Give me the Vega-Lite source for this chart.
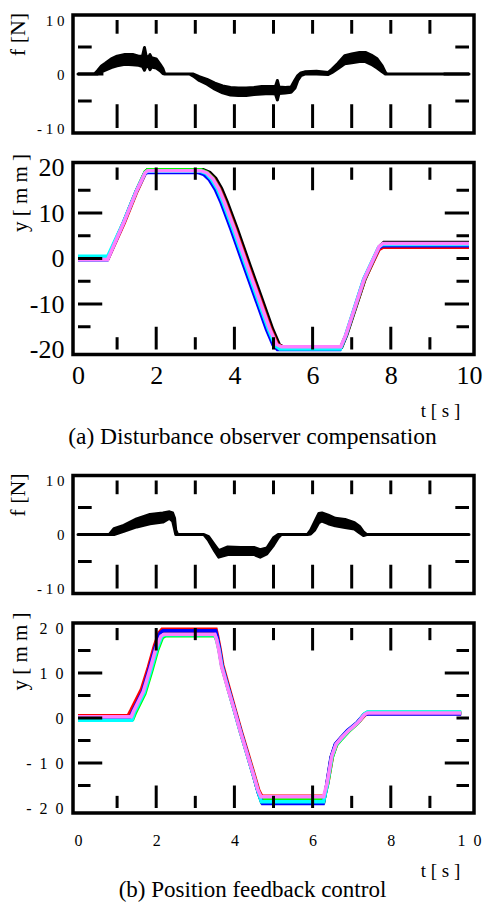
{
  "$schema": "https://vega.github.io/schema/vega-lite/v6.json",
  "background": "white",
  "padding": {"left": 4, "top": 7, "right": 0, "bottom": 0},
  "config": {
    "view": {"stroke": "black", "strokeWidth": 3.5},
    "axis": {"labelFont": "Liberation Serif", "titleFont": "Liberation Serif", "labelColor": "black", "titleColor": "black", "labelFlush": false, "labelOverlap": false, "labelBound": false, "titleFontWeight": "normal"},
    "title": {"font": "Liberation Serif", "fontWeight": "normal", "color": "black"}
  },
  "datasets": {
    "tx": [{"v":1},{"v":2},{"v":3},{"v":4},{"v":5},{"v":6},{"v":7},{"v":8},{"v":9}],
    "tyP": [{"v":-15},{"v":-10},{"v":-5},{"v":0},{"v":5},{"v":10},{"v":15}],
    "tyF": [{"v":-5},{"v":0},{"v":5}],
    "forceA": [
      {"t":0,"lo":0,"hi":0},{"t":0.42,"lo":0,"hi":0},{"t":0.5,"lo":0,"hi":0.6},{"t":0.6,"lo":0.4,"hi":1.5},{"t":0.7,"lo":0.7,"hi":2.0},{"t":0.85,"lo":1.2,"hi":2.8},{"t":1.0,"lo":1.5,"hi":3.3},{"t":1.2,"lo":1.8,"hi":3.6},{"t":1.4,"lo":1.7,"hi":3.6},{"t":1.55,"lo":1.6,"hi":3.3},{"t":1.65,"lo":1.4,"hi":3.3},{"t":1.7,"lo":0.7,"hi":4.9},{"t":1.74,"lo":1.4,"hi":3.4},{"t":1.8,"lo":1.4,"hi":3.0},{"t":1.84,"lo":0.8,"hi":3.6},{"t":1.88,"lo":1.3,"hi":3.0},{"t":2.0,"lo":1.1,"hi":2.8},{"t":2.1,"lo":0.6,"hi":1.8},{"t":2.17,"lo":0.1,"hi":1.0},{"t":2.22,"lo":0,"hi":0},{"t":2.85,"lo":0,"hi":0},{"t":2.95,"lo":-0.4,"hi":0},{"t":3.1,"lo":-1.2,"hi":-0.5},{"t":3.3,"lo":-1.9,"hi":-1.0},{"t":3.5,"lo":-2.8,"hi":-1.7},{"t":3.7,"lo":-3.5,"hi":-2.2},{"t":3.9,"lo":-3.9,"hi":-2.5},{"t":4.1,"lo":-4.0,"hi":-2.6},{"t":4.3,"lo":-4.0,"hi":-2.6},{"t":4.5,"lo":-3.8,"hi":-2.5},{"t":4.7,"lo":-3.7,"hi":-2.3},{"t":4.9,"lo":-3.6,"hi":-2.3},{"t":5.05,"lo":-3.7,"hi":-2.3},{"t":5.1,"lo":-4.8,"hi":-1.2},{"t":5.14,"lo":-3.6,"hi":-2.4},{"t":5.3,"lo":-3.5,"hi":-2.5},{"t":5.45,"lo":-3.4,"hi":-2.4},{"t":5.55,"lo":-2.6,"hi":-1.1},{"t":5.62,"lo":-1.2,"hi":-0.3},{"t":5.7,"lo":-0.3,"hi":0.2},{"t":5.8,"lo":0,"hi":0.4},{"t":6.1,"lo":0,"hi":0.5},{"t":6.4,"lo":-0.1,"hi":0.3},{"t":6.5,"lo":0.3,"hi":0.9},{"t":6.65,"lo":1.0,"hi":2.0},{"t":6.82,"lo":1.9,"hi":3.4},{"t":7.0,"lo":2.1,"hi":3.7},{"t":7.2,"lo":2.3,"hi":4.0},{"t":7.35,"lo":2.3,"hi":4.0},{"t":7.5,"lo":1.8,"hi":3.5},{"t":7.65,"lo":1.1,"hi":2.8},{"t":7.78,"lo":0.4,"hi":1.5},{"t":7.86,"lo":0,"hi":0.3},{"t":7.9,"lo":0,"hi":0},{"t":10,"lo":0,"hi":0}
    ],
    "forceB": [
      {"t":0,"lo":0,"hi":0},{"t":0.8,"lo":0,"hi":0},{"t":0.92,"lo":0,"hi":1.1},{"t":1.17,"lo":0.6,"hi":1.7},{"t":1.5,"lo":1.4,"hi":2.9},{"t":1.84,"lo":2.0,"hi":3.7},{"t":2.17,"lo":2.3,"hi":4.0},{"t":2.34,"lo":3.0,"hi":4.2},{"t":2.42,"lo":2.5,"hi":4.0},{"t":2.47,"lo":1.0,"hi":3.0},{"t":2.5,"lo":0,"hi":0.8},{"t":2.55,"lo":0,"hi":0},{"t":3.22,"lo":0,"hi":0},{"t":3.34,"lo":-1.1,"hi":-0.4},{"t":3.5,"lo":-3.1,"hi":-2.0},{"t":3.6,"lo":-4.2,"hi":-3.0},{"t":3.83,"lo":-3.7,"hi":-2.3},{"t":4.16,"lo":-3.7,"hi":-2.4},{"t":4.5,"lo":-3.7,"hi":-2.4},{"t":4.66,"lo":-4.2,"hi":-2.8},{"t":4.83,"lo":-3.6,"hi":-2.5},{"t":5.0,"lo":-2.0,"hi":-0.6},{"t":5.12,"lo":-0.6,"hi":0},{"t":5.2,"lo":0,"hi":0},{"t":5.87,"lo":0,"hi":0},{"t":5.95,"lo":0.1,"hi":0.8},{"t":6.05,"lo":0.8,"hi":2.3},{"t":6.16,"lo":2.2,"hi":3.9},{"t":6.24,"lo":2.5,"hi":4.0},{"t":6.4,"lo":2.0,"hi":3.6},{"t":6.58,"lo":1.6,"hi":3.0},{"t":6.83,"lo":1.3,"hi":2.8},{"t":7.07,"lo":1.0,"hi":2.2},{"t":7.2,"lo":0.3,"hi":1.5},{"t":7.3,"lo":-0.2,"hi":0.5},{"t":7.38,"lo":0,"hi":0},{"t":10,"lo":0,"hi":0}
    ],
    "posA": [
      {"s":"k","t":0,"y":0},{"s":"k","t":0.76,"y":0},{"s":"k","t":1.17,"y":7.9},{"s":"k","t":1.5,"y":14.9},{"s":"k","t":1.72,"y":19.0},{"s":"k","t":1.78,"y":19.5},{"s":"k","t":3.2,"y":19.5},{"s":"k","t":3.37,"y":18.9},{"s":"k","t":3.52,"y":17.6},{"s":"k","t":3.67,"y":15.4},{"s":"k","t":3.82,"y":12.3},{"s":"k","t":4.07,"y":6.5},{"s":"k","t":4.4,"y":-1.6},{"s":"k","t":4.67,"y":-8.1},{"s":"k","t":4.98,"y":-15.6},{"s":"k","t":5.15,"y":-19.0},{"s":"k","t":5.27,"y":-19.5},{"s":"k","t":6.74,"y":-19.5},{"s":"k","t":6.87,"y":-16.8},{"s":"k","t":7.34,"y":-4.5},{"s":"k","t":7.72,"y":2.7},{"s":"k","t":7.82,"y":3.5},{"s":"k","t":10,"y":3.5},
      {"s":"r","t":0,"y":0},{"s":"r","t":0.77,"y":0},{"s":"r","t":1.18,"y":7.8},{"s":"r","t":1.51,"y":14.8},{"s":"r","t":1.73,"y":18.9},{"s":"r","t":1.79,"y":19.3},{"s":"r","t":3.17,"y":19.3},{"s":"r","t":3.32,"y":18.8},{"s":"r","t":3.47,"y":17.5},{"s":"r","t":3.62,"y":15.3},{"s":"r","t":3.77,"y":12.3},{"s":"r","t":4.02,"y":6.5},{"s":"r","t":4.35,"y":-1.6},{"s":"r","t":4.62,"y":-8.1},{"s":"r","t":4.93,"y":-15.6},{"s":"r","t":5.1,"y":-18.9},{"s":"r","t":5.22,"y":-19.4},{"s":"r","t":6.73,"y":-19.4},{"s":"r","t":6.86,"y":-16.8},{"s":"r","t":7.33,"y":-4.6},{"s":"r","t":7.7,"y":2.0},{"s":"r","t":7.8,"y":2.5},{"s":"r","t":10,"y":2.5},
      {"s":"g","t":0,"y":0.1},{"s":"g","t":0.76,"y":0.1},{"s":"g","t":1.17,"y":8.0},{"s":"g","t":1.5,"y":15.0},{"s":"g","t":1.72,"y":19.1},{"s":"g","t":1.78,"y":19.5},{"s":"g","t":3.15,"y":19.5},{"s":"g","t":3.3,"y":18.9},{"s":"g","t":3.45,"y":17.6},{"s":"g","t":3.6,"y":15.3},{"s":"g","t":3.75,"y":12.3},{"s":"g","t":4.0,"y":6.5},{"s":"g","t":4.33,"y":-1.7},{"s":"g","t":4.6,"y":-8.2},{"s":"g","t":4.91,"y":-15.7},{"s":"g","t":5.08,"y":-19.0},{"s":"g","t":5.2,"y":-19.6},{"s":"g","t":6.72,"y":-19.6},{"s":"g","t":6.85,"y":-17.0},{"s":"g","t":7.32,"y":-4.6},{"s":"g","t":7.7,"y":2.5},{"s":"g","t":7.8,"y":3.2},{"s":"g","t":10,"y":3.2},
      {"s":"b","t":0,"y":-0.3},{"s":"b","t":0.75,"y":-0.3},{"s":"b","t":1.16,"y":7.8},{"s":"b","t":1.49,"y":14.8},{"s":"b","t":1.71,"y":18.6},{"s":"b","t":1.77,"y":18.9},{"s":"b","t":3.08,"y":18.9},{"s":"b","t":3.21,"y":18.5},{"s":"b","t":3.36,"y":17.3},{"s":"b","t":3.51,"y":15.2},{"s":"b","t":3.66,"y":12.3},{"s":"b","t":3.91,"y":6.5},{"s":"b","t":4.24,"y":-1.6},{"s":"b","t":4.51,"y":-8.1},{"s":"b","t":4.82,"y":-15.6},{"s":"b","t":4.99,"y":-19.0},{"s":"b","t":5.1,"y":-20.0},{"s":"b","t":6.7,"y":-20.0},{"s":"b","t":6.84,"y":-17.2},{"s":"b","t":7.31,"y":-4.6},{"s":"b","t":7.69,"y":2.3},{"s":"b","t":7.79,"y":2.8},{"s":"b","t":10,"y":2.8},
      {"s":"c","t":0,"y":0.5},{"s":"c","t":0.76,"y":0.5},{"s":"c","t":1.17,"y":8.1},{"s":"c","t":1.5,"y":15.0},{"s":"c","t":1.72,"y":18.9},{"s":"c","t":1.78,"y":19.2},{"s":"c","t":3.12,"y":19.2},{"s":"c","t":3.27,"y":18.7},{"s":"c","t":3.41,"y":17.4},{"s":"c","t":3.56,"y":15.3},{"s":"c","t":3.71,"y":12.3},{"s":"c","t":3.96,"y":6.5},{"s":"c","t":4.29,"y":-1.6},{"s":"c","t":4.56,"y":-8.1},{"s":"c","t":4.87,"y":-15.6},{"s":"c","t":5.04,"y":-19.1},{"s":"c","t":5.16,"y":-19.9},{"s":"c","t":6.71,"y":-19.9},{"s":"c","t":6.84,"y":-17.0},{"s":"c","t":7.31,"y":-4.5},{"s":"c","t":7.69,"y":2.5},{"s":"c","t":7.79,"y":3.1},{"s":"c","t":10,"y":3.1},
      {"s":"v","t":0,"y":-0.2},{"s":"v","t":0.76,"y":-0.2},{"s":"v","t":1.17,"y":7.9},{"s":"v","t":1.5,"y":14.9},{"s":"v","t":1.72,"y":18.9},{"s":"v","t":1.78,"y":19.3},{"s":"v","t":3.15,"y":19.3},{"s":"v","t":3.3,"y":18.8},{"s":"v","t":3.45,"y":17.5},{"s":"v","t":3.6,"y":15.3},{"s":"v","t":3.75,"y":12.3},{"s":"v","t":4.0,"y":6.5},{"s":"v","t":4.33,"y":-1.6},{"s":"v","t":4.6,"y":-8.1},{"s":"v","t":4.91,"y":-15.6},{"s":"v","t":5.08,"y":-18.9},{"s":"v","t":5.2,"y":-19.4},{"s":"v","t":6.72,"y":-19.4},{"s":"v","t":6.85,"y":-16.8},{"s":"v","t":7.32,"y":-4.5},{"s":"v","t":7.7,"y":2.6},{"s":"v","t":7.8,"y":3.3},{"s":"v","t":10,"y":3.3}
    ],
    "posB": [
      {"s":"k","t":0,"y":0.2},{"s":"k","t":1.33,"y":0.2},{"s":"k","t":1.39,"y":1.6},{"s":"k","t":1.64,"y":6.1},{"s":"k","t":1.81,"y":11.0},{"s":"k","t":1.97,"y":16.0},{"s":"k","t":2.09,"y":18.9},{"s":"k","t":2.16,"y":19.3},{"s":"k","t":3.51,"y":19.3},{"s":"k","t":3.55,"y":17.9},{"s":"k","t":3.61,"y":15.3},{"s":"k","t":3.68,"y":11.6},{"s":"k","t":3.84,"y":6.6},{"s":"k","t":4.0,"y":1.7},{"s":"k","t":4.16,"y":-3.2},{"s":"k","t":4.33,"y":-8.1},{"s":"k","t":4.5,"y":-13.1},{"s":"k","t":4.61,"y":-16.5},{"s":"k","t":4.7,"y":-18.8},{"s":"k","t":6.28,"y":-18.8},{"s":"k","t":6.36,"y":-15.0},{"s":"k","t":6.48,"y":-8.6},{"s":"k","t":6.59,"y":-5.8},{"s":"k","t":6.73,"y":-4.4},{"s":"k","t":6.9,"y":-2.9},{"s":"k","t":7.15,"y":-1.0},{"s":"k","t":7.31,"y":0.7},{"s":"k","t":7.39,"y":1.1},{"s":"k","t":9.8,"y":1.1},
      {"s":"r","t":0,"y":0.5},{"s":"r","t":1.28,"y":0.5},{"s":"r","t":1.36,"y":1.8},{"s":"r","t":1.62,"y":6.3},{"s":"r","t":1.8,"y":11.3},{"s":"r","t":1.96,"y":16.2},{"s":"r","t":2.08,"y":19.0},{"s":"r","t":2.15,"y":19.7},{"s":"r","t":3.53,"y":19.7},{"s":"r","t":3.57,"y":18.2},{"s":"r","t":3.63,"y":15.5},{"s":"r","t":3.7,"y":11.8},{"s":"r","t":3.86,"y":6.8},{"s":"r","t":4.02,"y":1.8},{"s":"r","t":4.18,"y":-3.1},{"s":"r","t":4.35,"y":-8.0},{"s":"r","t":4.52,"y":-13.0},{"s":"r","t":4.62,"y":-16.0},{"s":"r","t":4.7,"y":-17.4},{"s":"r","t":6.3,"y":-17.4},{"s":"r","t":6.39,"y":-14.4},{"s":"r","t":6.51,"y":-8.4},{"s":"r","t":6.62,"y":-5.7},{"s":"r","t":6.76,"y":-4.3},{"s":"r","t":6.93,"y":-2.8},{"s":"r","t":7.18,"y":-0.9},{"s":"r","t":7.34,"y":0.7},{"s":"r","t":7.42,"y":1.0},{"s":"r","t":9.8,"y":1.0},
      {"s":"g","t":0,"y":-0.3},{"s":"g","t":1.4,"y":-0.3},{"s":"g","t":1.46,"y":1.0},{"s":"g","t":1.71,"y":5.4},{"s":"g","t":1.88,"y":10.3},{"s":"g","t":2.04,"y":15.2},{"s":"g","t":2.16,"y":17.9},{"s":"g","t":2.24,"y":18.3},{"s":"g","t":3.5,"y":18.3},{"s":"g","t":3.55,"y":17.2},{"s":"g","t":3.61,"y":15.0},{"s":"g","t":3.68,"y":11.4},{"s":"g","t":3.84,"y":6.5},{"s":"g","t":4.01,"y":1.5},{"s":"g","t":4.17,"y":-3.4},{"s":"g","t":4.34,"y":-8.3},{"s":"g","t":4.51,"y":-13.2},{"s":"g","t":4.61,"y":-16.3},{"s":"g","t":4.69,"y":-18.1},{"s":"g","t":6.29,"y":-18.1},{"s":"g","t":6.38,"y":-14.8},{"s":"g","t":6.5,"y":-8.8},{"s":"g","t":6.61,"y":-6.0},{"s":"g","t":6.75,"y":-4.6},{"s":"g","t":6.92,"y":-3.0},{"s":"g","t":7.17,"y":-1.0},{"s":"g","t":7.33,"y":0.9},{"s":"g","t":7.41,"y":1.3},{"s":"g","t":9.8,"y":1.3},
      {"s":"b","t":0,"y":0.0},{"s":"b","t":1.33,"y":0.0},{"s":"b","t":1.4,"y":1.5},{"s":"b","t":1.65,"y":5.9},{"s":"b","t":1.82,"y":10.9},{"s":"b","t":1.98,"y":15.9},{"s":"b","t":2.1,"y":18.9},{"s":"b","t":2.17,"y":19.4},{"s":"b","t":3.52,"y":19.4},{"s":"b","t":3.56,"y":18.0},{"s":"b","t":3.62,"y":15.3},{"s":"b","t":3.69,"y":11.5},{"s":"b","t":3.85,"y":6.5},{"s":"b","t":4.01,"y":1.6},{"s":"b","t":4.17,"y":-3.3},{"s":"b","t":4.34,"y":-8.3},{"s":"b","t":4.51,"y":-13.4},{"s":"b","t":4.62,"y":-16.8},{"s":"b","t":4.72,"y":-19.0},{"s":"b","t":6.27,"y":-19.0},{"s":"b","t":6.35,"y":-15.5},{"s":"b","t":6.47,"y":-8.8},{"s":"b","t":6.58,"y":-5.8},{"s":"b","t":6.72,"y":-4.4},{"s":"b","t":6.89,"y":-2.8},{"s":"b","t":7.14,"y":-1.0},{"s":"b","t":7.3,"y":0.6},{"s":"b","t":7.38,"y":0.9},{"s":"b","t":9.8,"y":0.9},
      {"s":"c","t":0,"y":-0.5},{"s":"c","t":1.38,"y":-0.5},{"s":"c","t":1.44,"y":1.2},{"s":"c","t":1.69,"y":5.6},{"s":"c","t":1.86,"y":10.5},{"s":"c","t":2.02,"y":15.4},{"s":"c","t":2.14,"y":18.1},{"s":"c","t":2.22,"y":18.5},{"s":"c","t":3.5,"y":18.5},{"s":"c","t":3.55,"y":17.4},{"s":"c","t":3.61,"y":15.1},{"s":"c","t":3.68,"y":11.5},{"s":"c","t":3.84,"y":6.5},{"s":"c","t":4.0,"y":1.6},{"s":"c","t":4.16,"y":-3.3},{"s":"c","t":4.33,"y":-8.2},{"s":"c","t":4.5,"y":-13.1},{"s":"c","t":4.61,"y":-16.5},{"s":"c","t":4.69,"y":-18.6},{"s":"c","t":6.28,"y":-18.6},{"s":"c","t":6.37,"y":-15.0},{"s":"c","t":6.49,"y":-8.7},{"s":"c","t":6.6,"y":-5.9},{"s":"c","t":6.74,"y":-4.5},{"s":"c","t":6.91,"y":-2.9},{"s":"c","t":7.16,"y":-1.0},{"s":"c","t":7.32,"y":0.9},{"s":"c","t":7.4,"y":1.35},{"s":"c","t":9.8,"y":1.35},
      {"s":"v","t":0,"y":0.3},{"s":"v","t":1.36,"y":0.3},{"s":"v","t":1.42,"y":1.5},{"s":"v","t":1.67,"y":5.9},{"s":"v","t":1.84,"y":10.8},{"s":"v","t":2.0,"y":15.7},{"s":"v","t":2.12,"y":18.2},{"s":"v","t":2.2,"y":18.6},{"s":"v","t":3.5,"y":18.6},{"s":"v","t":3.54,"y":17.6},{"s":"v","t":3.6,"y":15.2},{"s":"v","t":3.67,"y":11.5},{"s":"v","t":3.83,"y":6.6},{"s":"v","t":4.0,"y":1.7},{"s":"v","t":4.16,"y":-3.2},{"s":"v","t":4.33,"y":-8.1},{"s":"v","t":4.5,"y":-13.0},{"s":"v","t":4.6,"y":-16.0},{"s":"v","t":4.68,"y":-17.5},{"s":"v","t":6.28,"y":-17.5},{"s":"v","t":6.37,"y":-14.5},{"s":"v","t":6.49,"y":-8.5},{"s":"v","t":6.6,"y":-5.8},{"s":"v","t":6.74,"y":-4.4},{"s":"v","t":6.91,"y":-2.9},{"s":"v","t":7.16,"y":-1.0},{"s":"v","t":7.32,"y":0.7},{"s":"v","t":7.4,"y":1.1},{"s":"v","t":9.8,"y":1.1}
    ]
  },
  "vconcat": [
    {
      "width": 401, "height": 118,
      "layer": [
        {"data": {"name": "forceA"}, "mark": {"type": "area", "color": "black", "stroke": "black", "strokeWidth": 3, "strokeJoin": "round"},
         "encoding": {
           "x": {"field": "t", "type": "quantitative", "scale": {"domain": [0, 10], "nice": false, "zero": false}, "axis": null},
           "y": {"field": "lo", "type": "quantitative", "scale": {"domain": [-10, 10], "nice": false, "zero": false},
                 "axis": {"orient": "left", "values": [-10,0,10], "ticks": false, "domain": false, "grid": false,
                          "labelExpr": "join(split('' + datum.value, ''), ' ')", "labelFontSize": 15, "labelPadding": 9,
                          "title": "f  [N]", "titleFontSize": 22, "titleX": -56, "titleY": 19, "titleAngle": -90, "titleAlign": "center", "titleBaseline": "middle"}},
           "y2": {"field": "hi"}
         }},
        {"data": {"name": "tx"}, "mark": {"type": "bar", "color": "black", "size": 3},
         "encoding": {"x": {"field": "v", "type": "quantitative", "scale": {"domain": [0, 10], "nice": false, "zero": false}, "axis": null},
                      "y": {"datum": -10, "type": "quantitative", "scale": {"domain": [-10, 10], "nice": false, "zero": false}, "axis": null}, "y2": {"datum": -5.6}}},
        {"data": {"name": "tx"}, "mark": {"type": "bar", "color": "black", "size": 3},
         "encoding": {"x": {"field": "v", "type": "quantitative", "scale": {"domain": [0, 10], "nice": false, "zero": false}, "axis": null},
                      "y": {"datum": 10, "type": "quantitative", "scale": {"domain": [-10, 10], "nice": false, "zero": false}, "axis": null}, "y2": {"datum": 7.46}}},
        {"data": {"name": "tyF"}, "transform": [{"filter": "datum.v === 0"}], "mark": {"type": "bar", "color": "black", "size": 3},
         "encoding": {"y": {"field": "v", "type": "quantitative", "scale": {"domain": [-10, 10], "nice": false, "zero": false}, "axis": null},
                      "x": {"datum": 0, "type": "quantitative", "scale": {"domain": [0, 10], "nice": false, "zero": false}, "axis": null}, "x2": {"datum": 0.65}}},
        {"data": {"name": "tyF"}, "transform": [{"filter": "datum.v !== 0"}], "mark": {"type": "bar", "color": "black", "size": 3},
         "encoding": {"y": {"field": "v", "type": "quantitative", "scale": {"domain": [-10, 10], "nice": false, "zero": false}, "axis": null},
                      "x": {"datum": 0, "type": "quantitative", "scale": {"domain": [0, 10], "nice": false, "zero": false}, "axis": null}, "x2": {"datum": 0.35}}},
        {"data": {"name": "tyF"}, "transform": [{"filter": "datum.v === 0"}], "mark": {"type": "bar", "color": "black", "size": 3},
         "encoding": {"y": {"field": "v", "type": "quantitative", "scale": {"domain": [-10, 10], "nice": false, "zero": false}, "axis": null},
                      "x": {"datum": 10, "type": "quantitative", "scale": {"domain": [0, 10], "nice": false, "zero": false}, "axis": null}, "x2": {"datum": 9.35}}},
        {"data": {"name": "tyF"}, "transform": [{"filter": "datum.v !== 0"}], "mark": {"type": "bar", "color": "black", "size": 3},
         "encoding": {"y": {"field": "v", "type": "quantitative", "scale": {"domain": [-10, 10], "nice": false, "zero": false}, "axis": null},
                      "x": {"datum": 10, "type": "quantitative", "scale": {"domain": [0, 10], "nice": false, "zero": false}, "axis": null}, "x2": {"datum": 9.65}}}
      ],
      "resolve": {"axis": {"x": "independent", "y": "independent"}}
    },
    {
      "width": 401, "height": 192,
      "title": {"text": "(a) Disturbance observer compensation", "orient": "bottom", "offset": 4, "fontSize": 23.5, "anchor": "middle", "dx": -21},
      "layer": [
        {"data": {"name": "posA"}, "mark": {"type": "line", "strokeWidth": 3.5},
         "encoding": {
           "x": {"field": "t", "type": "quantitative", "scale": {"domain": [0, 10], "nice": false, "zero": false},
                 "axis": {"orient": "bottom", "values": [0,2,4,6,8,10], "ticks": false, "domain": false, "grid": false,
                          "labelExpr": "'' + datum.value", "labelFontSize": 26, "labelPadding": 8,
                          "title": "t     [ s ]", "titleFontSize": 19, "titleX": 367, "titleY": 56, "titleAlign": "center", "titleBaseline": "middle", "titleAngle": 0}},
           "y": {"field": "y", "type": "quantitative", "scale": {"domain": [-20, 20], "nice": false, "zero": false},
                 "axis": {"orient": "left", "values": [-20,-10,0,10,20], "ticks": false, "domain": false, "grid": false,
                          "labelExpr": "'' + datum.value", "labelFontSize": 26, "labelPadding": 9,
                          "title": "y   [ m m ]", "titleFontSize": 21, "titleX": -53, "titleY": 30, "titleAngle": -90, "titleAlign": "center", "titleBaseline": "middle"}},
           "color": {"field": "s", "type": "nominal", "scale": {"domain": ["k","r","g","b","c","v"], "range": ["#000000","#ff0000","#00ff00","#0000ff","#00ffff","#ff80ff"]}, "legend": null}
         }},
        {"data": {"name": "tx"}, "transform": [{"filter": "datum.v % 2 === 0"}], "mark": {"type": "bar", "color": "black", "size": 3},
         "encoding": {"x": {"field": "v", "type": "quantitative", "scale": {"domain": [0, 10], "nice": false, "zero": false}, "axis": null},
                      "y": {"datum": -20, "type": "quantitative", "scale": {"domain": [-20, 20], "nice": false, "zero": false}, "axis": null}, "y2": {"datum": -15}}},
        {"data": {"name": "tx"}, "transform": [{"filter": "datum.v % 2 === 1"}], "mark": {"type": "bar", "color": "black", "size": 3},
         "encoding": {"x": {"field": "v", "type": "quantitative", "scale": {"domain": [0, 10], "nice": false, "zero": false}, "axis": null},
                      "y": {"datum": -20, "type": "quantitative", "scale": {"domain": [-20, 20], "nice": false, "zero": false}, "axis": null}, "y2": {"datum": -17.3}}},
        {"data": {"name": "tx"}, "transform": [{"filter": "datum.v % 2 === 0"}], "mark": {"type": "bar", "color": "black", "size": 3},
         "encoding": {"x": {"field": "v", "type": "quantitative", "scale": {"domain": [0, 10], "nice": false, "zero": false}, "axis": null},
                      "y": {"datum": 20, "type": "quantitative", "scale": {"domain": [-20, 20], "nice": false, "zero": false}, "axis": null}, "y2": {"datum": 15}}},
        {"data": {"name": "tx"}, "transform": [{"filter": "datum.v % 2 === 1"}], "mark": {"type": "bar", "color": "black", "size": 3},
         "encoding": {"x": {"field": "v", "type": "quantitative", "scale": {"domain": [0, 10], "nice": false, "zero": false}, "axis": null},
                      "y": {"datum": 20, "type": "quantitative", "scale": {"domain": [-20, 20], "nice": false, "zero": false}, "axis": null}, "y2": {"datum": 17.3}}},
        {"data": {"name": "tyP"}, "transform": [{"filter": "datum.v % 10 === 0"}], "mark": {"type": "bar", "color": "black", "size": 3},
         "encoding": {"y": {"field": "v", "type": "quantitative", "scale": {"domain": [-20, 20], "nice": false, "zero": false}, "axis": null},
                      "x": {"datum": 0, "type": "quantitative", "scale": {"domain": [0, 10], "nice": false, "zero": false}, "axis": null}, "x2": {"datum": 0.62}}},
        {"data": {"name": "tyP"}, "transform": [{"filter": "datum.v % 10 !== 0"}], "mark": {"type": "bar", "color": "black", "size": 3},
         "encoding": {"y": {"field": "v", "type": "quantitative", "scale": {"domain": [-20, 20], "nice": false, "zero": false}, "axis": null},
                      "x": {"datum": 0, "type": "quantitative", "scale": {"domain": [0, 10], "nice": false, "zero": false}, "axis": null}, "x2": {"datum": 0.32}}},
        {"data": {"name": "tyP"}, "transform": [{"filter": "datum.v === 10 || datum.v === -10"}], "mark": {"type": "bar", "color": "black", "size": 3},
         "encoding": {"y": {"field": "v", "type": "quantitative", "scale": {"domain": [-20, 20], "nice": false, "zero": false}, "axis": null},
                      "x": {"datum": 10, "type": "quantitative", "scale": {"domain": [0, 10], "nice": false, "zero": false}, "axis": null}, "x2": {"datum": 9.38}}},
        {"data": {"name": "tyP"}, "transform": [{"filter": "datum.v !== 10 && datum.v !== -10"}], "mark": {"type": "bar", "color": "black", "size": 3},
         "encoding": {"y": {"field": "v", "type": "quantitative", "scale": {"domain": [-20, 20], "nice": false, "zero": false}, "axis": null},
                      "x": {"datum": 10, "type": "quantitative", "scale": {"domain": [0, 10], "nice": false, "zero": false}, "axis": null}, "x2": {"datum": 9.68}}}
      ],
      "resolve": {"axis": {"x": "independent", "y": "independent"}}
    },
    {
      "width": 401, "height": 61.5,
      "data": {"values": []},
      "mark": "point",
      "view": {"stroke": null}
    },
    {
      "width": 401, "height": 118,
      "layer": [
        {"data": {"name": "forceB"}, "mark": {"type": "area", "color": "black", "stroke": "black", "strokeWidth": 3, "strokeJoin": "round"},
         "encoding": {
           "x": {"field": "t", "type": "quantitative", "scale": {"domain": [0, 10], "nice": false, "zero": false}, "axis": null},
           "y": {"field": "lo", "type": "quantitative", "scale": {"domain": [-10, 10], "nice": false, "zero": false},
                 "axis": {"orient": "left", "values": [-10,0,10], "ticks": false, "domain": false, "grid": false,
                          "labelExpr": "join(split('' + datum.value, ''), ' ')", "labelFontSize": 15, "labelPadding": 9,
                          "title": "f  [N]", "titleFontSize": 22, "titleX": -56, "titleY": 19, "titleAngle": -90, "titleAlign": "center", "titleBaseline": "middle"}},
           "y2": {"field": "hi"}
         }},
        {"data": {"name": "tx"}, "mark": {"type": "bar", "color": "black", "size": 3},
         "encoding": {"x": {"field": "v", "type": "quantitative", "scale": {"domain": [0, 10], "nice": false, "zero": false}, "axis": null},
                      "y": {"datum": -10, "type": "quantitative", "scale": {"domain": [-10, 10], "nice": false, "zero": false}, "axis": null}, "y2": {"datum": -5.6}}},
        {"data": {"name": "tx"}, "mark": {"type": "bar", "color": "black", "size": 3},
         "encoding": {"x": {"field": "v", "type": "quantitative", "scale": {"domain": [0, 10], "nice": false, "zero": false}, "axis": null},
                      "y": {"datum": 10, "type": "quantitative", "scale": {"domain": [-10, 10], "nice": false, "zero": false}, "axis": null}, "y2": {"datum": 7.46}}},
        {"data": {"name": "tyF"}, "transform": [{"filter": "datum.v === 0"}], "mark": {"type": "bar", "color": "black", "size": 3},
         "encoding": {"y": {"field": "v", "type": "quantitative", "scale": {"domain": [-10, 10], "nice": false, "zero": false}, "axis": null},
                      "x": {"datum": 0, "type": "quantitative", "scale": {"domain": [0, 10], "nice": false, "zero": false}, "axis": null}, "x2": {"datum": 0.65}}},
        {"data": {"name": "tyF"}, "transform": [{"filter": "datum.v !== 0"}], "mark": {"type": "bar", "color": "black", "size": 3},
         "encoding": {"y": {"field": "v", "type": "quantitative", "scale": {"domain": [-10, 10], "nice": false, "zero": false}, "axis": null},
                      "x": {"datum": 0, "type": "quantitative", "scale": {"domain": [0, 10], "nice": false, "zero": false}, "axis": null}, "x2": {"datum": 0.35}}},
        {"data": {"name": "tyF"}, "transform": [{"filter": "datum.v === 0"}], "mark": {"type": "bar", "color": "black", "size": 3},
         "encoding": {"y": {"field": "v", "type": "quantitative", "scale": {"domain": [-10, 10], "nice": false, "zero": false}, "axis": null},
                      "x": {"datum": 10, "type": "quantitative", "scale": {"domain": [0, 10], "nice": false, "zero": false}, "axis": null}, "x2": {"datum": 9.35}}},
        {"data": {"name": "tyF"}, "transform": [{"filter": "datum.v !== 0"}], "mark": {"type": "bar", "color": "black", "size": 3},
         "encoding": {"y": {"field": "v", "type": "quantitative", "scale": {"domain": [-10, 10], "nice": false, "zero": false}, "axis": null},
                      "x": {"datum": 10, "type": "quantitative", "scale": {"domain": [0, 10], "nice": false, "zero": false}, "axis": null}, "x2": {"datum": 9.65}}}
      ],
      "resolve": {"axis": {"x": "independent", "y": "independent"}}
    },
    {
      "width": 401, "height": 190,
      "title": {"text": "(b) Position feedback control", "orient": "bottom", "offset": -1, "fontSize": 23, "anchor": "middle", "dx": -21},
      "layer": [
        {"data": {"name": "posB"}, "mark": {"type": "line", "strokeWidth": 3.5},
         "encoding": {
           "x": {"field": "t", "type": "quantitative", "scale": {"domain": [0, 10], "nice": false, "zero": false},
                 "axis": {"orient": "bottom", "values": [0,2,4,6,8,10], "ticks": false, "domain": false, "grid": false,
                          "labelExpr": "join(split('' + datum.value, ''), '\u2002')", "labelFontSize": 16, "labelPadding": 19,
                          "title": "t     [ s ]", "titleFontSize": 19, "titleX": 367, "titleY": 57, "titleAlign": "center", "titleBaseline": "middle", "titleAngle": 0}},
           "y": {"field": "y", "type": "quantitative", "scale": {"domain": [-20, 20], "nice": false, "zero": false},
                 "axis": {"orient": "left", "values": [-20,-10,0,10,20], "ticks": false, "domain": false, "grid": false,
                          "labelExpr": "join(split('' + datum.value, ''), '\u2002')", "labelFontSize": 16, "labelPadding": 10,
                          "title": "y   [ m m ]", "titleFontSize": 21, "titleX": -53, "titleY": 28, "titleAngle": -90, "titleAlign": "center", "titleBaseline": "middle"}},
           "color": {"field": "s", "type": "nominal", "scale": {"domain": ["k","r","g","b","c","v"], "range": ["#000000","#ff0000","#00ff00","#0000ff","#00ffff","#ff80ff"]}, "legend": null}
         }},
        {"data": {"name": "tx"}, "transform": [{"filter": "datum.v % 2 === 0"}], "mark": {"type": "bar", "color": "black", "size": 3},
         "encoding": {"x": {"field": "v", "type": "quantitative", "scale": {"domain": [0, 10], "nice": false, "zero": false}, "axis": null},
                      "y": {"datum": -20, "type": "quantitative", "scale": {"domain": [-20, 20], "nice": false, "zero": false}, "axis": null}, "y2": {"datum": -15}}},
        {"data": {"name": "tx"}, "transform": [{"filter": "datum.v % 2 === 1"}], "mark": {"type": "bar", "color": "black", "size": 3},
         "encoding": {"x": {"field": "v", "type": "quantitative", "scale": {"domain": [0, 10], "nice": false, "zero": false}, "axis": null},
                      "y": {"datum": -20, "type": "quantitative", "scale": {"domain": [-20, 20], "nice": false, "zero": false}, "axis": null}, "y2": {"datum": -17.3}}},
        {"data": {"name": "tx"}, "transform": [{"filter": "datum.v % 2 === 0"}], "mark": {"type": "bar", "color": "black", "size": 3},
         "encoding": {"x": {"field": "v", "type": "quantitative", "scale": {"domain": [0, 10], "nice": false, "zero": false}, "axis": null},
                      "y": {"datum": 20, "type": "quantitative", "scale": {"domain": [-20, 20], "nice": false, "zero": false}, "axis": null}, "y2": {"datum": 15}}},
        {"data": {"name": "tx"}, "transform": [{"filter": "datum.v % 2 === 1"}], "mark": {"type": "bar", "color": "black", "size": 3},
         "encoding": {"x": {"field": "v", "type": "quantitative", "scale": {"domain": [0, 10], "nice": false, "zero": false}, "axis": null},
                      "y": {"datum": 20, "type": "quantitative", "scale": {"domain": [-20, 20], "nice": false, "zero": false}, "axis": null}, "y2": {"datum": 17.3}}},
        {"data": {"name": "tyP"}, "transform": [{"filter": "datum.v % 10 === 0"}], "mark": {"type": "bar", "color": "black", "size": 3},
         "encoding": {"y": {"field": "v", "type": "quantitative", "scale": {"domain": [-20, 20], "nice": false, "zero": false}, "axis": null},
                      "x": {"datum": 0, "type": "quantitative", "scale": {"domain": [0, 10], "nice": false, "zero": false}, "axis": null}, "x2": {"datum": 0.62}}},
        {"data": {"name": "tyP"}, "transform": [{"filter": "datum.v % 10 !== 0"}], "mark": {"type": "bar", "color": "black", "size": 3},
         "encoding": {"y": {"field": "v", "type": "quantitative", "scale": {"domain": [-20, 20], "nice": false, "zero": false}, "axis": null},
                      "x": {"datum": 0, "type": "quantitative", "scale": {"domain": [0, 10], "nice": false, "zero": false}, "axis": null}, "x2": {"datum": 0.32}}},
        {"data": {"name": "tyP"}, "transform": [{"filter": "datum.v === 10 || datum.v === -10"}], "mark": {"type": "bar", "color": "black", "size": 3},
         "encoding": {"y": {"field": "v", "type": "quantitative", "scale": {"domain": [-20, 20], "nice": false, "zero": false}, "axis": null},
                      "x": {"datum": 10, "type": "quantitative", "scale": {"domain": [0, 10], "nice": false, "zero": false}, "axis": null}, "x2": {"datum": 9.38}}},
        {"data": {"name": "tyP"}, "transform": [{"filter": "datum.v !== 10 && datum.v !== -10"}], "mark": {"type": "bar", "color": "black", "size": 3},
         "encoding": {"y": {"field": "v", "type": "quantitative", "scale": {"domain": [-20, 20], "nice": false, "zero": false}, "axis": null},
                      "x": {"datum": 10, "type": "quantitative", "scale": {"domain": [0, 10], "nice": false, "zero": false}, "axis": null}, "x2": {"datum": 9.68}}}
      ],
      "resolve": {"axis": {"x": "independent", "y": "independent"}}
    }
  ],
  "spacing": 29.5,
  "bounds": "flush"
}
